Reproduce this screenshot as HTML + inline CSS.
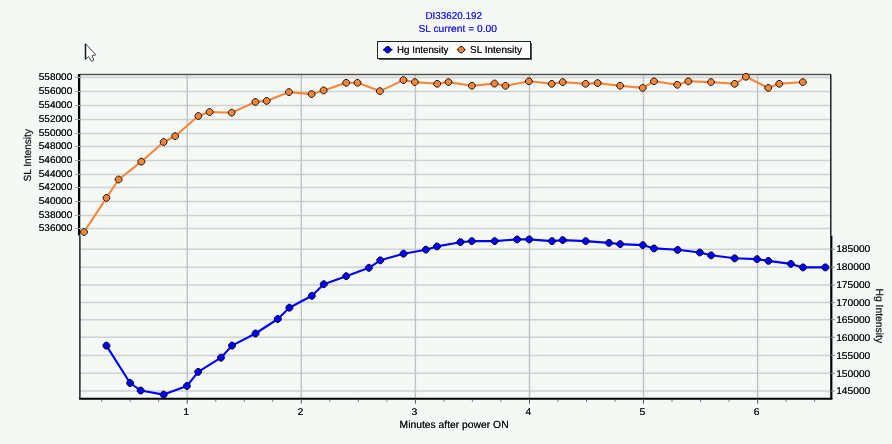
<!DOCTYPE html>
<html><head><meta charset="utf-8"><title>chart</title>
<style>
html,body{margin:0;padding:0;background:#f4f9f5;}
body{width:892px;height:444px;overflow:hidden;font-family:"Liberation Sans", sans-serif;}
svg{display:block;filter:blur(0.35px);}
text{font-family:"Liberation Sans", sans-serif;fill:#111;text-rendering:geometricPrecision;}
.k{filter:drop-shadow(0.35px 0px 0px rgba(17,17,17,0.9));}
.bl{filter:drop-shadow(0.35px 0px 0px rgba(28,28,255,0.9));}
text.bl{fill:#1c1cff;}
</style></head><body>
<svg width="892" height="444" viewBox="0 0 892 444">
<rect x="0" y="0" width="892" height="444" fill="#f4f9f5"/>

<line x1="80" y1="77.5" x2="831" y2="77.5" stroke="#ced2d0" stroke-width="1.5"/>
<line x1="80" y1="91.5" x2="831" y2="91.5" stroke="#ced2d0" stroke-width="1.5"/>
<line x1="80" y1="105.5" x2="831" y2="105.5" stroke="#ced2d0" stroke-width="1.5"/>
<line x1="80" y1="119.5" x2="831" y2="119.5" stroke="#ced2d0" stroke-width="1.5"/>
<line x1="80" y1="133.4" x2="831" y2="133.4" stroke="#ced2d0" stroke-width="1.5"/>
<line x1="80" y1="146.5" x2="831" y2="146.5" stroke="#ced2d0" stroke-width="1.5"/>
<line x1="80" y1="160.5" x2="831" y2="160.5" stroke="#ced2d0" stroke-width="1.5"/>
<line x1="80" y1="174.4" x2="831" y2="174.4" stroke="#ced2d0" stroke-width="1.5"/>
<line x1="80" y1="187.5" x2="831" y2="187.5" stroke="#ced2d0" stroke-width="1.5"/>
<line x1="80" y1="201.5" x2="831" y2="201.5" stroke="#ced2d0" stroke-width="1.5"/>
<line x1="80" y1="215.4" x2="831" y2="215.4" stroke="#ced2d0" stroke-width="1.5"/>
<line x1="80" y1="228.5" x2="831" y2="228.5" stroke="#ced2d0" stroke-width="1.5"/>
<line x1="80" y1="249.2" x2="831" y2="249.2" stroke="#ced2d0" stroke-width="1.5"/>
<line x1="80" y1="267.2" x2="831" y2="267.2" stroke="#ced2d0" stroke-width="1.5"/>
<line x1="80" y1="285.0" x2="831" y2="285.0" stroke="#ced2d0" stroke-width="1.5"/>
<line x1="80" y1="302.6" x2="831" y2="302.6" stroke="#ced2d0" stroke-width="1.5"/>
<line x1="80" y1="319.7" x2="831" y2="319.7" stroke="#ced2d0" stroke-width="1.5"/>
<line x1="80" y1="337.3" x2="831" y2="337.3" stroke="#ced2d0" stroke-width="1.5"/>
<line x1="80" y1="355.4" x2="831" y2="355.4" stroke="#ced2d0" stroke-width="1.5"/>
<line x1="80" y1="373.3" x2="831" y2="373.3" stroke="#ced2d0" stroke-width="1.5"/>
<line x1="80" y1="391.0" x2="831" y2="391.0" stroke="#ced2d0" stroke-width="1.5"/>
<line x1="187.2" y1="74.5" x2="187.2" y2="398.85" stroke="#bfc3c8" stroke-width="1.4"/>
<line x1="301.3" y1="74.5" x2="301.3" y2="398.85" stroke="#bfc3c8" stroke-width="1.4"/>
<line x1="415.4" y1="74.5" x2="415.4" y2="398.85" stroke="#bfc3c8" stroke-width="1.4"/>
<line x1="529.5" y1="74.5" x2="529.5" y2="398.85" stroke="#bfc3c8" stroke-width="1.4"/>
<line x1="643.5" y1="74.5" x2="643.5" y2="398.85" stroke="#bfc3c8" stroke-width="1.4"/>
<line x1="757.6" y1="74.5" x2="757.6" y2="398.85" stroke="#bfc3c8" stroke-width="1.4"/>
<line x1="80" y1="74.5" x2="831" y2="74.5" stroke="#555" stroke-width="1.3"/>
<line x1="79.1" y1="74.0" x2="79.1" y2="235.5" stroke="#000" stroke-width="2.3"/>
<line x1="79.9" y1="235.5" x2="79.9" y2="398.85" stroke="#000" stroke-width="1.3"/>
<line x1="830.8" y1="74.5" x2="830.8" y2="235.5" stroke="#000" stroke-width="1.3"/>
<line x1="831.3" y1="235.5" x2="831.3" y2="398.85" stroke="#000" stroke-width="2.2"/>
<line x1="79.1" y1="398.85" x2="832.4" y2="398.85" stroke="#000" stroke-width="2"/>
<line x1="101.7" y1="399.85" x2="101.7" y2="402.05" stroke="#777" stroke-width="0.9"/>
<line x1="130.2" y1="399.85" x2="130.2" y2="402.05" stroke="#777" stroke-width="0.9"/>
<line x1="158.7" y1="399.85" x2="158.7" y2="402.05" stroke="#777" stroke-width="0.9"/>
<line x1="187.2" y1="399.85" x2="187.2" y2="403.65000000000003" stroke="#555" stroke-width="1"/>
<line x1="215.8" y1="399.85" x2="215.8" y2="402.05" stroke="#777" stroke-width="0.9"/>
<line x1="244.3" y1="399.85" x2="244.3" y2="402.05" stroke="#777" stroke-width="0.9"/>
<line x1="272.8" y1="399.85" x2="272.8" y2="402.05" stroke="#777" stroke-width="0.9"/>
<line x1="301.3" y1="399.85" x2="301.3" y2="403.65000000000003" stroke="#555" stroke-width="1"/>
<line x1="329.8" y1="399.85" x2="329.8" y2="402.05" stroke="#777" stroke-width="0.9"/>
<line x1="358.4" y1="399.85" x2="358.4" y2="402.05" stroke="#777" stroke-width="0.9"/>
<line x1="386.9" y1="399.85" x2="386.9" y2="402.05" stroke="#777" stroke-width="0.9"/>
<line x1="415.4" y1="399.85" x2="415.4" y2="403.65000000000003" stroke="#555" stroke-width="1"/>
<line x1="443.9" y1="399.85" x2="443.9" y2="402.05" stroke="#777" stroke-width="0.9"/>
<line x1="472.4" y1="399.85" x2="472.4" y2="402.05" stroke="#777" stroke-width="0.9"/>
<line x1="500.9" y1="399.85" x2="500.9" y2="402.05" stroke="#777" stroke-width="0.9"/>
<line x1="529.5" y1="399.85" x2="529.5" y2="403.65000000000003" stroke="#555" stroke-width="1"/>
<line x1="558.0" y1="399.85" x2="558.0" y2="402.05" stroke="#777" stroke-width="0.9"/>
<line x1="586.5" y1="399.85" x2="586.5" y2="402.05" stroke="#777" stroke-width="0.9"/>
<line x1="615.0" y1="399.85" x2="615.0" y2="402.05" stroke="#777" stroke-width="0.9"/>
<line x1="643.5" y1="399.85" x2="643.5" y2="403.65000000000003" stroke="#555" stroke-width="1"/>
<line x1="672.0" y1="399.85" x2="672.0" y2="402.05" stroke="#777" stroke-width="0.9"/>
<line x1="700.6" y1="399.85" x2="700.6" y2="402.05" stroke="#777" stroke-width="0.9"/>
<line x1="729.1" y1="399.85" x2="729.1" y2="402.05" stroke="#777" stroke-width="0.9"/>
<line x1="757.6" y1="399.85" x2="757.6" y2="403.65000000000003" stroke="#555" stroke-width="1"/>
<line x1="786.1" y1="399.85" x2="786.1" y2="402.05" stroke="#777" stroke-width="0.9"/>
<line x1="814.6" y1="399.85" x2="814.6" y2="402.05" stroke="#777" stroke-width="0.9"/>
<line x1="75" y1="77.5" x2="80" y2="77.5" stroke="#a0a4a2" stroke-width="1"/>
<text class="k" x="72.3" y="80.2" font-size="9.7" text-anchor="end" textLength="33.6" lengthAdjust="spacingAndGlyphs">558000</text>
<line x1="75" y1="91.5" x2="80" y2="91.5" stroke="#a0a4a2" stroke-width="1"/>
<text class="k" x="72.3" y="94.2" font-size="9.7" text-anchor="end" textLength="33.6" lengthAdjust="spacingAndGlyphs">556000</text>
<line x1="75" y1="105.5" x2="80" y2="105.5" stroke="#a0a4a2" stroke-width="1"/>
<text class="k" x="72.3" y="108.2" font-size="9.7" text-anchor="end" textLength="33.6" lengthAdjust="spacingAndGlyphs">554000</text>
<line x1="75" y1="119.5" x2="80" y2="119.5" stroke="#a0a4a2" stroke-width="1"/>
<text class="k" x="72.3" y="122.2" font-size="9.7" text-anchor="end" textLength="33.6" lengthAdjust="spacingAndGlyphs">552000</text>
<line x1="75" y1="133.4" x2="80" y2="133.4" stroke="#a0a4a2" stroke-width="1"/>
<text class="k" x="72.3" y="136.1" font-size="9.7" text-anchor="end" textLength="33.6" lengthAdjust="spacingAndGlyphs">550000</text>
<line x1="75" y1="146.5" x2="80" y2="146.5" stroke="#a0a4a2" stroke-width="1"/>
<text class="k" x="72.3" y="149.2" font-size="9.7" text-anchor="end" textLength="33.6" lengthAdjust="spacingAndGlyphs">548000</text>
<line x1="75" y1="160.5" x2="80" y2="160.5" stroke="#a0a4a2" stroke-width="1"/>
<text class="k" x="72.3" y="163.2" font-size="9.7" text-anchor="end" textLength="33.6" lengthAdjust="spacingAndGlyphs">546000</text>
<line x1="75" y1="174.4" x2="80" y2="174.4" stroke="#a0a4a2" stroke-width="1"/>
<text class="k" x="72.3" y="177.1" font-size="9.7" text-anchor="end" textLength="33.6" lengthAdjust="spacingAndGlyphs">544000</text>
<line x1="75" y1="187.5" x2="80" y2="187.5" stroke="#a0a4a2" stroke-width="1"/>
<text class="k" x="72.3" y="190.2" font-size="9.7" text-anchor="end" textLength="33.6" lengthAdjust="spacingAndGlyphs">542000</text>
<line x1="75" y1="201.5" x2="80" y2="201.5" stroke="#a0a4a2" stroke-width="1"/>
<text class="k" x="72.3" y="204.2" font-size="9.7" text-anchor="end" textLength="33.6" lengthAdjust="spacingAndGlyphs">540000</text>
<line x1="75" y1="215.4" x2="80" y2="215.4" stroke="#a0a4a2" stroke-width="1"/>
<text class="k" x="72.3" y="218.1" font-size="9.7" text-anchor="end" textLength="33.6" lengthAdjust="spacingAndGlyphs">538000</text>
<line x1="75" y1="228.5" x2="80" y2="228.5" stroke="#a0a4a2" stroke-width="1"/>
<text class="k" x="72.3" y="231.2" font-size="9.7" text-anchor="end" textLength="33.6" lengthAdjust="spacingAndGlyphs">536000</text>
<line x1="831" y1="249.2" x2="835" y2="249.2" stroke="#8a8e8c" stroke-width="1"/>
<text class="k" x="836.2" y="252.4" font-size="9.8" textLength="34.1" lengthAdjust="spacingAndGlyphs">185000</text>
<line x1="831" y1="267.2" x2="835" y2="267.2" stroke="#8a8e8c" stroke-width="1"/>
<text class="k" x="836.2" y="270.4" font-size="9.8" textLength="34.1" lengthAdjust="spacingAndGlyphs">180000</text>
<line x1="831" y1="285.0" x2="835" y2="285.0" stroke="#8a8e8c" stroke-width="1"/>
<text class="k" x="836.2" y="288.2" font-size="9.8" textLength="34.1" lengthAdjust="spacingAndGlyphs">175000</text>
<line x1="831" y1="302.6" x2="835" y2="302.6" stroke="#8a8e8c" stroke-width="1"/>
<text class="k" x="836.2" y="305.8" font-size="9.8" textLength="34.1" lengthAdjust="spacingAndGlyphs">170000</text>
<line x1="831" y1="319.7" x2="835" y2="319.7" stroke="#8a8e8c" stroke-width="1"/>
<text class="k" x="836.2" y="322.9" font-size="9.8" textLength="34.1" lengthAdjust="spacingAndGlyphs">165000</text>
<line x1="831" y1="337.3" x2="835" y2="337.3" stroke="#8a8e8c" stroke-width="1"/>
<text class="k" x="836.2" y="340.5" font-size="9.8" textLength="34.1" lengthAdjust="spacingAndGlyphs">160000</text>
<line x1="831" y1="355.4" x2="835" y2="355.4" stroke="#8a8e8c" stroke-width="1"/>
<text class="k" x="836.2" y="358.6" font-size="9.8" textLength="34.1" lengthAdjust="spacingAndGlyphs">155000</text>
<line x1="831" y1="373.3" x2="835" y2="373.3" stroke="#8a8e8c" stroke-width="1"/>
<text class="k" x="836.2" y="376.5" font-size="9.8" textLength="34.1" lengthAdjust="spacingAndGlyphs">150000</text>
<line x1="831" y1="391.0" x2="835" y2="391.0" stroke="#8a8e8c" stroke-width="1"/>
<text class="k" x="836.2" y="394.2" font-size="9.8" textLength="34.1" lengthAdjust="spacingAndGlyphs">145000</text>
<text class="k" x="186.2" y="414.7" font-size="9.8" text-anchor="middle" textLength="5.8" lengthAdjust="spacingAndGlyphs">1</text>
<text class="k" x="300.3" y="414.7" font-size="9.8" text-anchor="middle" textLength="5.8" lengthAdjust="spacingAndGlyphs">2</text>
<text class="k" x="414.4" y="414.7" font-size="9.8" text-anchor="middle" textLength="5.8" lengthAdjust="spacingAndGlyphs">3</text>
<text class="k" x="528.5" y="414.7" font-size="9.8" text-anchor="middle" textLength="5.8" lengthAdjust="spacingAndGlyphs">4</text>
<text class="k" x="642.5" y="414.7" font-size="9.8" text-anchor="middle" textLength="5.8" lengthAdjust="spacingAndGlyphs">5</text>
<text class="k" x="756.6" y="414.7" font-size="9.8" text-anchor="middle" textLength="5.8" lengthAdjust="spacingAndGlyphs">6</text>
<text style="stroke:#111;stroke-width:0.2px" transform="translate(30.5,155.3) rotate(-90)" font-size="10.3" text-anchor="middle" textLength="52.5" lengthAdjust="spacingAndGlyphs">SL Intensity</text>
<text style="stroke:#111;stroke-width:0.2px" transform="translate(876.0,315.8) rotate(90)" font-size="10.3" text-anchor="middle" textLength="54.5" lengthAdjust="spacingAndGlyphs">Hg Intensity</text>
<text class="k" x="454.1" y="427.5" font-size="10.4" text-anchor="middle" textLength="109" lengthAdjust="spacingAndGlyphs">Minutes after power ON</text>
<text x="453.7" y="19.1" font-size="10" text-anchor="middle" textLength="56.5" lengthAdjust="spacingAndGlyphs" class="bl">DI33620.192</text>
<text x="457.7" y="32.1" font-size="10.2" text-anchor="middle" textLength="78.6" lengthAdjust="spacingAndGlyphs" class="bl">SL current = 0.00</text>
<rect x="379" y="43" width="153" height="17" fill="#555"/>
<rect x="377.5" y="41.5" width="153" height="17" fill="#fbfdfb" stroke="#222" stroke-width="1"/>
<line x1="383" y1="49.7" x2="392.5" y2="49.7" stroke="#0000ff" stroke-width="1.6"/>
<polygon points="390.8,48.7 390.8,50.7 388.7,52.8 386.7,52.8 384.6,50.7 384.6,48.7 386.7,46.6 388.7,46.6" fill="#0000ff" stroke="#000010" stroke-width="1" stroke-linejoin="round"/>
<text class="k" x="397" y="53.3" font-size="10" textLength="51.5" lengthAdjust="spacingAndGlyphs">Hg Intensity</text>
<line x1="456.5" y1="49.7" x2="466" y2="49.7" stroke="#f4863a" stroke-width="1.6"/>
<polygon points="464.3,48.7 464.3,50.7 462.2,52.8 460.2,52.8 458.1,50.7 458.1,48.7 460.2,46.6 462.2,46.6" fill="#f4863a" stroke="#140c04" stroke-width="1" stroke-linejoin="round"/>
<text class="k" x="470" y="53.3" font-size="10" textLength="52" lengthAdjust="spacingAndGlyphs">SL Intensity</text>
<polyline points="84.0,232.0 106.5,197.9 118.6,179.5 141.3,161.7 163.7,142.0 175.1,136.2 198.3,116.0 209.6,112.0 231.7,112.7 255.3,101.9 266.6,100.9 289.0,92.1 311.6,94.1 323.6,90.4 346.2,82.8 357.5,82.8 379.9,91.1 403.4,80.1 414.9,82.1 437.2,83.8 448.5,82.1 471.9,85.8 494.5,83.6 505.5,85.8 528.9,81.3 551.7,83.8 562.8,82.1 585.6,83.8 597.6,83.1 620.1,85.8 642.7,87.9 654.0,81.3 677.3,84.8 688.4,81.3 711.0,82.1 734.6,83.8 745.9,76.8 768.3,87.9 779.3,83.8 802.9,82.1" fill="none" stroke="#f4863a" stroke-width="2.1" stroke-linejoin="round"/>
<polygon points="87.3,230.8 87.3,233.2 85.2,235.3 82.8,235.3 80.7,233.2 80.7,230.8 82.8,228.7 85.2,228.7" fill="#f4863a" stroke="#1a1008" stroke-width="0.95" stroke-linejoin="round"/>
<polygon points="109.8,196.8 109.8,199.1 107.7,201.2 105.3,201.2 103.2,199.1 103.2,196.8 105.3,194.6 107.7,194.6" fill="#f4863a" stroke="#1a1008" stroke-width="0.95" stroke-linejoin="round"/>
<polygon points="121.9,178.3 121.9,180.7 119.8,182.8 117.4,182.8 115.2,180.7 115.2,178.3 117.4,176.2 119.8,176.2" fill="#f4863a" stroke="#1a1008" stroke-width="0.95" stroke-linejoin="round"/>
<polygon points="144.7,160.5 144.7,162.8 142.5,165.0 140.2,165.0 138.0,162.8 138.0,160.5 140.2,158.3 142.5,158.3" fill="#f4863a" stroke="#1a1008" stroke-width="0.95" stroke-linejoin="round"/>
<polygon points="167.0,140.8 167.0,143.2 164.8,145.3 162.5,145.3 160.3,143.2 160.3,140.8 162.5,138.7 164.8,138.7" fill="#f4863a" stroke="#1a1008" stroke-width="0.95" stroke-linejoin="round"/>
<polygon points="178.4,135.0 178.4,137.3 176.2,139.5 173.9,139.5 171.8,137.3 171.8,135.0 173.9,132.8 176.2,132.8" fill="#f4863a" stroke="#1a1008" stroke-width="0.95" stroke-linejoin="round"/>
<polygon points="201.7,114.8 201.7,117.2 199.5,119.3 197.2,119.3 195.0,117.2 195.0,114.8 197.2,112.7 199.5,112.7" fill="#f4863a" stroke="#1a1008" stroke-width="0.95" stroke-linejoin="round"/>
<polygon points="212.9,110.8 212.9,113.2 210.8,115.3 208.4,115.3 206.2,113.2 206.2,110.8 208.4,108.7 210.8,108.7" fill="#f4863a" stroke="#1a1008" stroke-width="0.95" stroke-linejoin="round"/>
<polygon points="235.0,111.5 235.0,113.9 232.8,116.0 230.5,116.0 228.3,113.9 228.3,111.5 230.5,109.4 232.8,109.4" fill="#f4863a" stroke="#1a1008" stroke-width="0.95" stroke-linejoin="round"/>
<polygon points="258.7,100.8 258.7,103.1 256.4,105.2 254.2,105.2 252.0,103.1 252.0,100.8 254.2,98.6 256.4,98.6" fill="#f4863a" stroke="#1a1008" stroke-width="0.95" stroke-linejoin="round"/>
<polygon points="270.0,99.8 270.0,102.1 267.8,104.2 265.5,104.2 263.2,102.1 263.2,99.8 265.5,97.6 267.8,97.6" fill="#f4863a" stroke="#1a1008" stroke-width="0.95" stroke-linejoin="round"/>
<polygon points="292.4,90.9 292.4,93.2 290.1,95.4 287.9,95.4 285.6,93.2 285.6,90.9 287.9,88.8 290.1,88.8" fill="#f4863a" stroke="#1a1008" stroke-width="0.95" stroke-linejoin="round"/>
<polygon points="315.0,92.9 315.0,95.2 312.8,97.4 310.5,97.4 308.2,95.2 308.2,92.9 310.5,90.8 312.8,90.8" fill="#f4863a" stroke="#1a1008" stroke-width="0.95" stroke-linejoin="round"/>
<polygon points="327.0,89.2 327.0,91.6 324.8,93.8 322.5,93.8 320.2,91.6 320.2,89.2 322.5,87.1 324.8,87.1" fill="#f4863a" stroke="#1a1008" stroke-width="0.95" stroke-linejoin="round"/>
<polygon points="349.6,81.6 349.6,84.0 347.3,86.1 345.1,86.1 342.8,84.0 342.8,81.6 345.1,79.5 347.3,79.5" fill="#f4863a" stroke="#1a1008" stroke-width="0.95" stroke-linejoin="round"/>
<polygon points="360.9,81.6 360.9,84.0 358.6,86.1 356.4,86.1 354.1,84.0 354.1,81.6 356.4,79.5 358.6,79.5" fill="#f4863a" stroke="#1a1008" stroke-width="0.95" stroke-linejoin="round"/>
<polygon points="383.2,89.9 383.2,92.2 381.0,94.4 378.8,94.4 376.5,92.2 376.5,89.9 378.8,87.8 381.0,87.8" fill="#f4863a" stroke="#1a1008" stroke-width="0.95" stroke-linejoin="round"/>
<polygon points="406.8,78.9 406.8,81.2 404.5,83.4 402.2,83.4 400.0,81.2 400.0,78.9 402.2,76.8 404.5,76.8" fill="#f4863a" stroke="#1a1008" stroke-width="0.95" stroke-linejoin="round"/>
<polygon points="418.2,80.9 418.2,83.2 416.0,85.4 413.8,85.4 411.5,83.2 411.5,80.9 413.8,78.8 416.0,78.8" fill="#f4863a" stroke="#1a1008" stroke-width="0.95" stroke-linejoin="round"/>
<polygon points="440.6,82.6 440.6,85.0 438.3,87.1 436.1,87.1 433.8,85.0 433.8,82.6 436.1,80.5 438.3,80.5" fill="#f4863a" stroke="#1a1008" stroke-width="0.95" stroke-linejoin="round"/>
<polygon points="451.9,80.9 451.9,83.2 449.6,85.4 447.4,85.4 445.1,83.2 445.1,80.9 447.4,78.8 449.6,78.8" fill="#f4863a" stroke="#1a1008" stroke-width="0.95" stroke-linejoin="round"/>
<polygon points="475.2,84.6 475.2,87.0 473.0,89.1 470.8,89.1 468.5,87.0 468.5,84.6 470.8,82.5 473.0,82.5" fill="#f4863a" stroke="#1a1008" stroke-width="0.95" stroke-linejoin="round"/>
<polygon points="497.9,82.4 497.9,84.8 495.6,86.9 493.4,86.9 491.1,84.8 491.1,82.4 493.4,80.2 495.6,80.2" fill="#f4863a" stroke="#1a1008" stroke-width="0.95" stroke-linejoin="round"/>
<polygon points="508.9,84.6 508.9,87.0 506.6,89.1 504.4,89.1 502.1,87.0 502.1,84.6 504.4,82.5 506.6,82.5" fill="#f4863a" stroke="#1a1008" stroke-width="0.95" stroke-linejoin="round"/>
<polygon points="532.2,80.1 532.2,82.5 530.0,84.6 527.8,84.6 525.5,82.5 525.5,80.1 527.8,78.0 530.0,78.0" fill="#f4863a" stroke="#1a1008" stroke-width="0.95" stroke-linejoin="round"/>
<polygon points="555.1,82.6 555.1,85.0 552.9,87.1 550.6,87.1 548.4,85.0 548.4,82.6 550.6,80.5 552.9,80.5" fill="#f4863a" stroke="#1a1008" stroke-width="0.95" stroke-linejoin="round"/>
<polygon points="566.1,80.9 566.1,83.2 563.9,85.4 561.6,85.4 559.4,83.2 559.4,80.9 561.6,78.8 563.9,78.8" fill="#f4863a" stroke="#1a1008" stroke-width="0.95" stroke-linejoin="round"/>
<polygon points="589.0,82.6 589.0,85.0 586.8,87.1 584.5,87.1 582.2,85.0 582.2,82.6 584.5,80.5 586.8,80.5" fill="#f4863a" stroke="#1a1008" stroke-width="0.95" stroke-linejoin="round"/>
<polygon points="601.0,81.9 601.0,84.2 598.8,86.4 596.5,86.4 594.2,84.2 594.2,81.9 596.5,79.8 598.8,79.8" fill="#f4863a" stroke="#1a1008" stroke-width="0.95" stroke-linejoin="round"/>
<polygon points="623.5,84.6 623.5,87.0 621.2,89.1 619.0,89.1 616.8,87.0 616.8,84.6 619.0,82.5 621.2,82.5" fill="#f4863a" stroke="#1a1008" stroke-width="0.95" stroke-linejoin="round"/>
<polygon points="646.1,86.8 646.1,89.1 643.9,91.2 641.6,91.2 639.4,89.1 639.4,86.8 641.6,84.6 643.9,84.6" fill="#f4863a" stroke="#1a1008" stroke-width="0.95" stroke-linejoin="round"/>
<polygon points="657.4,80.1 657.4,82.5 655.1,84.6 652.9,84.6 650.6,82.5 650.6,80.1 652.9,78.0 655.1,78.0" fill="#f4863a" stroke="#1a1008" stroke-width="0.95" stroke-linejoin="round"/>
<polygon points="680.6,83.6 680.6,86.0 678.4,88.1 676.1,88.1 673.9,86.0 673.9,83.6 676.1,81.5 678.4,81.5" fill="#f4863a" stroke="#1a1008" stroke-width="0.95" stroke-linejoin="round"/>
<polygon points="691.8,80.1 691.8,82.5 689.5,84.6 687.2,84.6 685.0,82.5 685.0,80.1 687.2,78.0 689.5,78.0" fill="#f4863a" stroke="#1a1008" stroke-width="0.95" stroke-linejoin="round"/>
<polygon points="714.4,80.9 714.4,83.2 712.1,85.4 709.9,85.4 707.6,83.2 707.6,80.9 709.9,78.8 712.1,78.8" fill="#f4863a" stroke="#1a1008" stroke-width="0.95" stroke-linejoin="round"/>
<polygon points="738.0,82.6 738.0,85.0 735.8,87.1 733.5,87.1 731.2,85.0 731.2,82.6 733.5,80.5 735.8,80.5" fill="#f4863a" stroke="#1a1008" stroke-width="0.95" stroke-linejoin="round"/>
<polygon points="749.2,75.6 749.2,78.0 747.0,80.1 744.8,80.1 742.5,78.0 742.5,75.6 744.8,73.5 747.0,73.5" fill="#f4863a" stroke="#1a1008" stroke-width="0.95" stroke-linejoin="round"/>
<polygon points="771.6,86.8 771.6,89.1 769.4,91.2 767.1,91.2 764.9,89.1 764.9,86.8 767.1,84.6 769.4,84.6" fill="#f4863a" stroke="#1a1008" stroke-width="0.95" stroke-linejoin="round"/>
<polygon points="782.6,82.6 782.6,85.0 780.4,87.1 778.1,87.1 775.9,85.0 775.9,82.6 778.1,80.5 780.4,80.5" fill="#f4863a" stroke="#1a1008" stroke-width="0.95" stroke-linejoin="round"/>
<polygon points="806.2,80.9 806.2,83.2 804.0,85.4 801.8,85.4 799.5,83.2 799.5,80.9 801.8,78.8 804.0,78.8" fill="#f4863a" stroke="#1a1008" stroke-width="0.95" stroke-linejoin="round"/>
<polyline points="106.4,345.6 130.1,383.0 140.7,390.5 163.7,394.6 186.9,386.0 198.2,371.9 221.0,357.7 232.0,345.6 255.5,333.5 277.8,319.0 289.4,307.7 311.9,295.8 323.8,284.2 346.2,276.2 368.9,267.8 380.3,260.3 403.5,253.7 425.9,249.7 437.0,246.4 460.4,242.2 471.9,241.1 494.7,241.1 517.1,239.4 529.2,239.4 552.0,241.1 562.8,240.1 585.7,241.1 609.0,242.9 620.1,244.1 642.9,245.1 654.0,248.4 677.6,249.8 699.8,252.5 711.1,255.3 734.6,258.3 757.0,259.1 768.4,260.9 790.9,263.9 803.0,267.4 825.4,267.4" fill="none" stroke="#0000ff" stroke-width="2.1" stroke-linejoin="round"/>
<polygon points="109.8,344.5 109.8,346.8 107.6,349.0 105.2,349.0 103.1,346.8 103.1,344.5 105.2,342.2 107.6,342.2" fill="#0000ff" stroke="#00001a" stroke-width="0.95" stroke-linejoin="round"/>
<polygon points="133.4,381.9 133.4,384.1 131.2,386.4 128.9,386.4 126.8,384.1 126.8,381.9 128.9,379.6 131.2,379.6" fill="#0000ff" stroke="#00001a" stroke-width="0.95" stroke-linejoin="round"/>
<polygon points="144.0,389.4 144.0,391.6 141.8,393.9 139.5,393.9 137.3,391.6 137.3,389.4 139.5,387.1 141.8,387.1" fill="#0000ff" stroke="#00001a" stroke-width="0.95" stroke-linejoin="round"/>
<polygon points="167.0,393.5 167.0,395.8 164.8,398.0 162.5,398.0 160.3,395.8 160.3,393.5 162.5,391.2 164.8,391.2" fill="#0000ff" stroke="#00001a" stroke-width="0.95" stroke-linejoin="round"/>
<polygon points="190.2,384.9 190.2,387.1 188.1,389.4 185.8,389.4 183.6,387.1 183.6,384.9 185.8,382.6 188.1,382.6" fill="#0000ff" stroke="#00001a" stroke-width="0.95" stroke-linejoin="round"/>
<polygon points="201.5,370.8 201.5,373.0 199.3,375.2 197.0,375.2 194.8,373.0 194.8,370.8 197.0,368.5 199.3,368.5" fill="#0000ff" stroke="#00001a" stroke-width="0.95" stroke-linejoin="round"/>
<polygon points="224.3,356.6 224.3,358.8 222.2,361.1 219.8,361.1 217.7,358.8 217.7,356.6 219.8,354.3 222.2,354.3" fill="#0000ff" stroke="#00001a" stroke-width="0.95" stroke-linejoin="round"/>
<polygon points="235.3,344.5 235.3,346.8 233.2,349.0 230.8,349.0 228.7,346.8 228.7,344.5 230.8,342.2 233.2,342.2" fill="#0000ff" stroke="#00001a" stroke-width="0.95" stroke-linejoin="round"/>
<polygon points="258.9,332.4 258.9,334.6 256.6,336.9 254.3,336.9 252.2,334.6 252.2,332.4 254.3,330.1 256.6,330.1" fill="#0000ff" stroke="#00001a" stroke-width="0.95" stroke-linejoin="round"/>
<polygon points="281.2,317.9 281.2,320.1 278.9,322.4 276.7,322.4 274.4,320.1 274.4,317.9 276.7,315.6 278.9,315.6" fill="#0000ff" stroke="#00001a" stroke-width="0.95" stroke-linejoin="round"/>
<polygon points="292.8,306.6 292.8,308.8 290.5,311.1 288.2,311.1 286.0,308.8 286.0,306.6 288.2,304.3 290.5,304.3" fill="#0000ff" stroke="#00001a" stroke-width="0.95" stroke-linejoin="round"/>
<polygon points="315.2,294.7 315.2,296.9 313.0,299.2 310.8,299.2 308.5,296.9 308.5,294.7 310.8,292.4 313.0,292.4" fill="#0000ff" stroke="#00001a" stroke-width="0.95" stroke-linejoin="round"/>
<polygon points="327.2,283.1 327.2,285.3 324.9,287.6 322.7,287.6 320.4,285.3 320.4,283.1 322.7,280.8 324.9,280.8" fill="#0000ff" stroke="#00001a" stroke-width="0.95" stroke-linejoin="round"/>
<polygon points="349.6,275.1 349.6,277.3 347.3,279.6 345.1,279.6 342.8,277.3 342.8,275.1 345.1,272.8 347.3,272.8" fill="#0000ff" stroke="#00001a" stroke-width="0.95" stroke-linejoin="round"/>
<polygon points="372.2,266.7 372.2,268.9 370.0,271.2 367.8,271.2 365.5,268.9 365.5,266.7 367.8,264.4 370.0,264.4" fill="#0000ff" stroke="#00001a" stroke-width="0.95" stroke-linejoin="round"/>
<polygon points="383.7,259.2 383.7,261.4 381.4,263.7 379.2,263.7 376.9,261.4 376.9,259.2 379.2,256.9 381.4,256.9" fill="#0000ff" stroke="#00001a" stroke-width="0.95" stroke-linejoin="round"/>
<polygon points="406.9,252.5 406.9,254.8 404.6,257.1 402.4,257.1 400.1,254.8 400.1,252.5 402.4,250.3 404.6,250.3" fill="#0000ff" stroke="#00001a" stroke-width="0.95" stroke-linejoin="round"/>
<polygon points="429.2,248.5 429.2,250.8 427.0,253.0 424.8,253.0 422.5,250.8 422.5,248.5 424.8,246.3 427.0,246.3" fill="#0000ff" stroke="#00001a" stroke-width="0.95" stroke-linejoin="round"/>
<polygon points="440.4,245.2 440.4,247.6 438.1,249.8 435.9,249.8 433.6,247.6 433.6,245.2 435.9,243.1 438.1,243.1" fill="#0000ff" stroke="#00001a" stroke-width="0.95" stroke-linejoin="round"/>
<polygon points="463.8,241.0 463.8,243.3 461.5,245.5 459.2,245.5 457.0,243.3 457.0,241.0 459.2,238.8 461.5,238.8" fill="#0000ff" stroke="#00001a" stroke-width="0.95" stroke-linejoin="round"/>
<polygon points="475.2,239.9 475.2,242.2 473.0,244.4 470.8,244.4 468.5,242.2 468.5,239.9 470.8,237.8 473.0,237.8" fill="#0000ff" stroke="#00001a" stroke-width="0.95" stroke-linejoin="round"/>
<polygon points="498.1,239.9 498.1,242.2 495.8,244.4 493.6,244.4 491.3,242.2 491.3,239.9 493.6,237.8 495.8,237.8" fill="#0000ff" stroke="#00001a" stroke-width="0.95" stroke-linejoin="round"/>
<polygon points="520.5,238.2 520.5,240.6 518.2,242.8 516.0,242.8 513.8,240.6 513.8,238.2 516.0,236.1 518.2,236.1" fill="#0000ff" stroke="#00001a" stroke-width="0.95" stroke-linejoin="round"/>
<polygon points="532.6,238.2 532.6,240.6 530.4,242.8 528.1,242.8 525.9,240.6 525.9,238.2 528.1,236.1 530.4,236.1" fill="#0000ff" stroke="#00001a" stroke-width="0.95" stroke-linejoin="round"/>
<polygon points="555.4,239.9 555.4,242.2 553.1,244.4 550.9,244.4 548.6,242.2 548.6,239.9 550.9,237.8 553.1,237.8" fill="#0000ff" stroke="#00001a" stroke-width="0.95" stroke-linejoin="round"/>
<polygon points="566.1,238.9 566.1,241.2 563.9,243.4 561.6,243.4 559.4,241.2 559.4,238.9 561.6,236.8 563.9,236.8" fill="#0000ff" stroke="#00001a" stroke-width="0.95" stroke-linejoin="round"/>
<polygon points="589.1,239.9 589.1,242.2 586.9,244.4 584.6,244.4 582.4,242.2 582.4,239.9 584.6,237.8 586.9,237.8" fill="#0000ff" stroke="#00001a" stroke-width="0.95" stroke-linejoin="round"/>
<polygon points="612.4,241.8 612.4,244.1 610.1,246.2 607.9,246.2 605.6,244.1 605.6,241.8 607.9,239.6 610.1,239.6" fill="#0000ff" stroke="#00001a" stroke-width="0.95" stroke-linejoin="round"/>
<polygon points="623.5,242.9 623.5,245.2 621.2,247.4 619.0,247.4 616.8,245.2 616.8,242.9 619.0,240.8 621.2,240.8" fill="#0000ff" stroke="#00001a" stroke-width="0.95" stroke-linejoin="round"/>
<polygon points="646.2,243.9 646.2,246.2 644.0,248.4 641.8,248.4 639.5,246.2 639.5,243.9 641.8,241.8 644.0,241.8" fill="#0000ff" stroke="#00001a" stroke-width="0.95" stroke-linejoin="round"/>
<polygon points="657.4,247.2 657.4,249.6 655.1,251.8 652.9,251.8 650.6,249.6 650.6,247.2 652.9,245.1 655.1,245.1" fill="#0000ff" stroke="#00001a" stroke-width="0.95" stroke-linejoin="round"/>
<polygon points="681.0,248.7 681.0,251.0 678.8,253.2 676.5,253.2 674.2,251.0 674.2,248.7 676.5,246.5 678.8,246.5" fill="#0000ff" stroke="#00001a" stroke-width="0.95" stroke-linejoin="round"/>
<polygon points="703.1,251.3 703.1,253.7 700.9,255.8 698.6,255.8 696.4,253.7 696.4,251.3 698.6,249.2 700.9,249.2" fill="#0000ff" stroke="#00001a" stroke-width="0.95" stroke-linejoin="round"/>
<polygon points="714.5,254.2 714.5,256.4 712.2,258.7 710.0,258.7 707.8,256.4 707.8,254.2 710.0,252.0 712.2,252.0" fill="#0000ff" stroke="#00001a" stroke-width="0.95" stroke-linejoin="round"/>
<polygon points="738.0,257.2 738.0,259.4 735.8,261.7 733.5,261.7 731.2,259.4 731.2,257.2 733.5,255.0 735.8,255.0" fill="#0000ff" stroke="#00001a" stroke-width="0.95" stroke-linejoin="round"/>
<polygon points="760.4,258.0 760.4,260.2 758.1,262.5 755.9,262.5 753.6,260.2 753.6,258.0 755.9,255.8 758.1,255.8" fill="#0000ff" stroke="#00001a" stroke-width="0.95" stroke-linejoin="round"/>
<polygon points="771.8,259.8 771.8,262.0 769.5,264.2 767.2,264.2 765.0,262.0 765.0,259.8 767.2,257.5 769.5,257.5" fill="#0000ff" stroke="#00001a" stroke-width="0.95" stroke-linejoin="round"/>
<polygon points="794.2,262.8 794.2,265.0 792.0,267.2 789.8,267.2 787.5,265.0 787.5,262.8 789.8,260.5 792.0,260.5" fill="#0000ff" stroke="#00001a" stroke-width="0.95" stroke-linejoin="round"/>
<polygon points="806.4,266.2 806.4,268.5 804.1,270.8 801.9,270.8 799.6,268.5 799.6,266.2 801.9,264.0 804.1,264.0" fill="#0000ff" stroke="#00001a" stroke-width="0.95" stroke-linejoin="round"/>
<polygon points="828.8,266.2 828.8,268.5 826.5,270.8 824.2,270.8 822.0,268.5 822.0,266.2 824.2,264.0 826.5,264.0" fill="#0000ff" stroke="#00001a" stroke-width="0.95" stroke-linejoin="round"/>
<path d="M85.5 43.8 L85.5 59.3 L88.7 56.5 L91.3 61.2 L93.7 60.2 L92.1 55.6 L96 54.8 Z" fill="#fdfefd" stroke="#4a4c55" stroke-width="1" stroke-linejoin="miter"/>
<path d="M85.5 43.8 L85.5 59.3" fill="none" stroke="#15151f" stroke-width="1.5"/>
</svg></body></html>
